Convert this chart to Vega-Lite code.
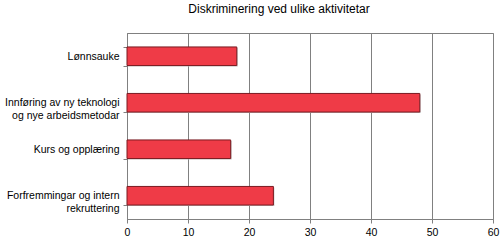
{
  "$schema": "https://vega.github.io/schema/vega-lite/v6.json",
  "autosize": {"type": "fit", "contains": "padding"},
  "width": 500,
  "height": 242,
  "padding": {"left": 4, "right": 1, "top": 3, "bottom": 4},
  "background": "white",
  "title": {
    "text": "Diskriminering ved ulike aktivitetar",
    "font": "Liberation Sans",
    "fontSize": 12,
    "fontWeight": "normal",
    "color": "black",
    "anchor": "middle",
    "dx": -31,
    "offset": 12
  },
  "config": {
    "font": "Liberation Sans",
    "view": {"stroke": "#808080", "strokeWidth": 1}
  },
  "data": {
    "values": [
      {"aktivitet": "Lønnsauke", "verdi": 18},
      {"aktivitet": "Innføring av ny teknologi|og nye arbeidsmetodar", "verdi": 48},
      {"aktivitet": "Kurs og opplæring", "verdi": 17},
      {"aktivitet": "Forfremmingar og intern|rekruttering", "verdi": 24}
    ]
  },
  "layer": [
    {
      "mark": {"type": "bar", "color": "#c8c8c8", "xOffset": 1, "yOffset": 1},
      "encoding": {
        "y": {"field": "aktivitet", "type": "nominal", "sort": null},
        "x": {"field": "verdi", "type": "quantitative"}
      }
    },
    {
      "mark": {"type": "bar", "color": "#ef3b47", "stroke": "#7a1a20", "strokeWidth": 1},
      "encoding": {
        "y": {
          "field": "aktivitet",
          "type": "nominal",
          "sort": null,
          "title": null,
          "scale": {"paddingInner": 0.6, "paddingOuter": 0.3},
          "axis": {
            "labelExpr": "datum.value ? split(datum.value, '|') : ''",
            "labelFontSize": 10.5,
            "labelColor": "black",
            "labelAlign": "right",
            "labelPadding": 4,
            "labelLineHeight": 13,
            "tickBand": "extent",
            "tickColor": "#808080",
            "tickSize": 4,
            "domainColor": "#808080",
            "labelLimit": 200
          }
        },
        "x": {
          "field": "verdi",
          "type": "quantitative",
          "title": null,
          "scale": {"domain": [0, 60]},
          "axis": {
            "values": [0, 10, 20, 30, 40, 50, 60],
            "labelFontSize": 10.5,
            "labelColor": "black",
            "gridColor": "#808080",
            "gridOpacity": 1,
            "tickColor": "#808080",
            "tickSize": 4,
            "domainColor": "#808080",
            "labelPadding": 4,
            "labelFlush": false
          }
        }
      }
    }
  ]
}
